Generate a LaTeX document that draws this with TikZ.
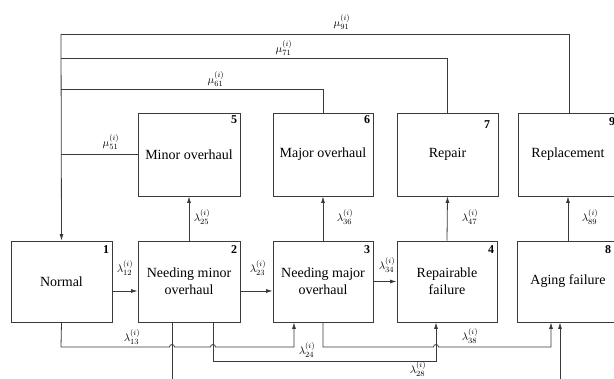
\documentclass[tikz,border=0pt]{standalone}
\usepackage{fontspec}
\setmainfont{Liberation Serif}
\usetikzlibrary{arrows.meta}
\definecolor{linec}{HTML}{3A3A3A}
\begin{document}
\begin{tikzpicture}[x=1pt,y=-1pt,
  box/.style={draw=linec, line width=0.8pt, minimum width=#1, inner sep=0pt, align=center, font=\fontsize{14}{17}\selectfont},
  lowbox/.style={box=#1, minimum height=81pt},
  upbox/.style={box=#1, minimum height=83pt},
  num/.style={anchor=north east, inner sep=0pt, font=\bfseries\fontsize{12}{12}\selectfont},
  lab/.style={inner sep=0pt, font=\fontsize{11}{11}\selectfont},
  conn/.style={draw=linec, line width=0.8pt},
  arr/.style={conn, -{Latex[length=6.5pt,width=4pt]}}]
\path[use as bounding box, clip] (0,0) rectangle (614,379);
% lower row
\node[lowbox=101pt] (n1) at (61.5,281.5) {Normal};
\node[lowbox=102pt] (n2) at (189,281.5) {Needing minor\\overhaul};
\node[lowbox=100pt] (n3) at (323,281.5) {Needing major\\overhaul};
\node[lowbox=100pt] (n4) at (447,281.5) {Repairable\\failure};
\node[lowbox=102pt] (n8) at (568,281.5) {Aging failure};
% upper row
\node[upbox=102pt] (n5) at (189,154.5) {Minor overhaul};
\node[upbox=100pt] (n6) at (323,154.5) {Major overhaul};
\node[upbox=101pt] (n7) at (447.5,154.5) {Repair};
\node[upbox=100pt] (n9) at (568,154.5) {Replacement};
% numbers
\node[num] (k1) at ([shift={(-3pt,-5pt)}]n1.north east) {1};
\node[num] (k2) at ([shift={(-3pt,-5pt)}]n2.north east) {2};
\node[num] (k3) at ([shift={(-3pt,-5pt)}]n3.north east) {3};
\node[num] (k4) at ([shift={(-3pt,-5pt)}]n4.north east) {4};
\node[num] (k8) at ([shift={(-8pt,-5pt)}]n8.north east) {8};
\node[num] (k5) at ([shift={(-3pt,-3pt)}]n5.north east) {5};
\node[num] (k6) at ([shift={(-3pt,-3pt)}]n6.north east) {6};
\node[num] (k7) at ([shift={(-8pt,-8pt)}]n7.north east) {7};
\node[num] (k9) at ([shift={(-3pt,-5pt)}]n9.north east) {9};
% return lines
\coordinate (c91) at (61,34);
\coordinate (c71) at (61,58);
\coordinate (c61) at (61,89);
\coordinate (c51) at (61,154.5);
\draw[arr] (c91) -- (n1.north);
\draw[conn] ([xshift=1pt]n9.north) |- (c91);
\draw[conn] (n7.north) |- (c71);
\draw[conn] (n6.north) |- (c61);
\draw[conn] (n5.west) -- (c51);
\node[lab] (m91) at (342,22) {$\mu_{91}^{(i)}$};
\node[lab] (m71) at (284,48) {$\mu_{71}^{(i)}$};
\node[lab] (m61) at (216,79) {$\mu_{61}^{(i)}$};
\node[lab] (m51) at (111,142) {$\mu_{51}^{(i)}$};
% horizontal arrows
\draw[arr] ([yshift=-9.5pt]n1.east) -- ([yshift=-9.5pt]n2.west);
\draw[arr] ([yshift=-9.5pt]n2.east) -- ([yshift=-9.5pt]n3.west);
\draw[arr] (n3.east) -- (n4.west);
\node[lab] (l12) at (125,268) {$\lambda_{12}^{(i)}$};
\node[lab] (l23) at (258,268) {$\lambda_{23}^{(i)}$};
\node[lab] (l34) at (387,265) {$\lambda_{34}^{(i)}$};
% vertical arrows
\draw[arr] (n2.north) -- (n5.south);
\draw[arr] (n3.north) -- (n6.south);
\draw[arr] (n4.north) -- (n7.south);
\draw[arr] (n8.north) -- (n9.south);
\node[lab] (l25) at (202,217) {$\lambda_{25}^{(i)}$};
\node[lab] (l36) at (345,217) {$\lambda_{36}^{(i)}$};
\node[lab] (l47) at (470,217) {$\lambda_{47}^{(i)}$};
\node[lab] (l89) at (590,217) {$\lambda_{89}^{(i)}$};
% bottom connectors
\draw[arr] (n1.south) -- (61,347) -- (169.5,347) arc[start angle=180,end angle=360,radius=2.5]
  -- (210.5,347) arc[start angle=180,end angle=360,radius=2.5] -- (294,347) -- ([xshift=-29pt]n3.south);
\draw[arr] ([xshift=-17pt]n2.south) -- (172,395) -- (560,395) -- ([xshift=-8pt]n8.south);
\draw[arr] ([xshift=24pt]n2.south) -- (213,361) -- (436,361) -- ([xshift=-11pt]n4.south);
\draw[arr] (n3.south) -- (323,347) -- (433.5,347) arc[start angle=180,end angle=360,radius=2.5]
  -- (551,347) -- ([xshift=-17pt]n8.south);
\node[lab] (l13) at (132,337) {$\lambda_{13}^{(i)}$};
\node[lab] (l24) at (307,350) {$\lambda_{24}^{(i)}$};
\node[lab] (l38) at (470,336) {$\lambda_{38}^{(i)}$};
\node[lab] (l28) at (418,369) {$\lambda_{28}^{(i)}$};
\end{tikzpicture}
\end{document}
